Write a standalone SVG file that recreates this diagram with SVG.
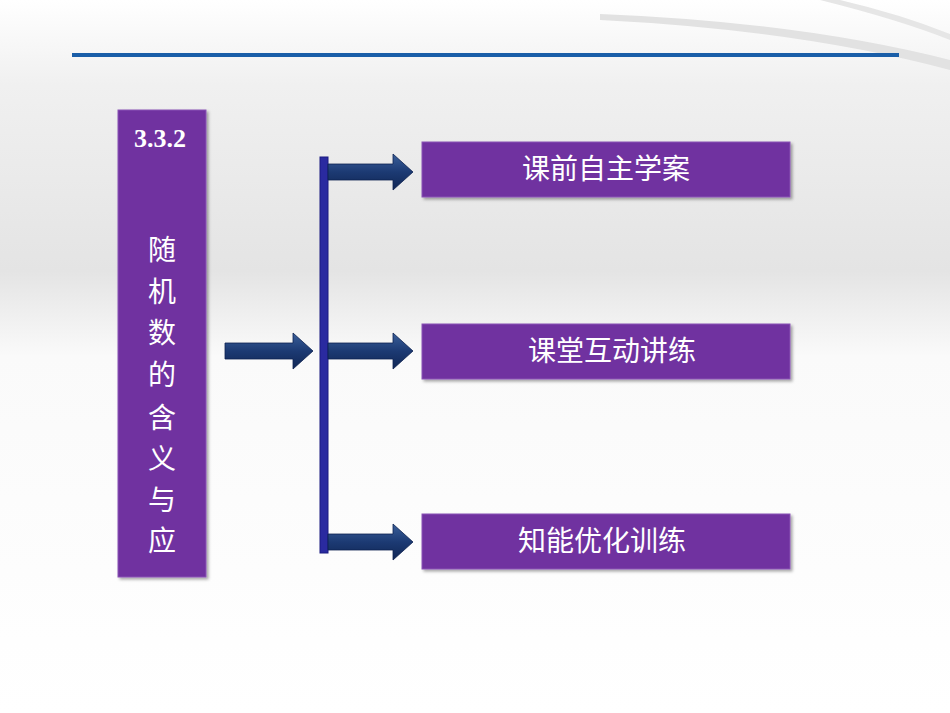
<svg xmlns="http://www.w3.org/2000/svg" width="950" height="713" viewBox="0 0 950 713">
<defs>
<linearGradient id="bg" x1="0" y1="0" x2="0" y2="1">
<stop offset="0" stop-color="#ffffff"/><stop offset="0.12" stop-color="#f0f0f0"/><stop offset="0.38" stop-color="#e4e4e4"/><stop offset="0.5" stop-color="#fafafa"/><stop offset="1" stop-color="#ffffff"/>
</linearGradient>
<linearGradient id="arr" x1="0" y1="0" x2="0" y2="1">
<stop offset="0" stop-color="#3a5f9a"/><stop offset="0.5" stop-color="#1c3a73"/><stop offset="1" stop-color="#102654"/>
</linearGradient>
<filter id="sh" x="-10%" y="-10%" width="130%" height="130%"><feDropShadow dx="2" dy="2" stdDeviation="1.5" flood-color="#000" flood-opacity="0.35"/></filter>
</defs>
<style>
.box{fill:#7030a0;stroke:#8a55b5;stroke-width:1;filter:url(#sh)}
.t{font-family:"Liberation Serif","Noto Sans CJK SC",serif;fill:#fff}
.lbl{font-size:28px;text-anchor:middle}
.a{fill:url(#arr);stroke:#0e2250;stroke-width:0.8}
</style>
<rect width="950" height="713" fill="url(#bg)"/>
<path d="M600,20 Q800,30 950,70 L950,60 Q800,22 600,14 Z" fill="#e2e2e2"/>
<path d="M820,0 Q900,20 950,40 L950,34 Q900,14 840,0 Z" fill="#e6e6e6"/>
<rect x="72" y="53" width="827" height="4" fill="#1a5ea8"/>
<g id="connectors">
<polygon class="a" points="225,343 293,343 293,333 313,351 293,369 293,359 225,359"/>
<rect x="320" y="157" width="8" height="396" fill="#2a2aa0" stroke="#1a1a80"/>
<polygon class="a" points="328,164 393,164 393,154 413,172 393,190 393,180 328,180"/>
<polygon class="a" points="328,343 393,343 393,333 413,351 393,369 393,359 328,359"/>
<polygon class="a" points="328,534 393,534 393,524 413,542 393,560 393,550 328,550"/>
</g>
<g id="title">
<rect class="box" x="118" y="110" width="88" height="467"/>
<text class="t" x="160" y="147" font-size="26" font-weight="bold" text-anchor="middle">3.3.2</text>
<g class="t lbl">
<text x="162" y="260">随</text><text x="162" y="302">机</text><text x="162" y="343">数</text><text x="162" y="385">的</text><text x="162" y="428">含</text><text x="162" y="469">义</text><text x="162" y="510">与</text><text x="162" y="551">应</text><text x="162" y="566" opacity="0"></text>
</g>
</g>
<g id="n1"><rect class="box" x="422" y="142" width="368" height="55"/><text class="t lbl" x="606" y="179">课前自主学案</text></g>
<g id="n2"><rect class="box" x="422" y="324" width="368" height="55"/><text class="t lbl" x="612" y="361">课堂互动讲练</text></g>
<g id="n3"><rect class="box" x="422" y="514" width="368" height="55"/><text class="t lbl" x="602" y="551">知能优化训练</text></g>
</svg>
